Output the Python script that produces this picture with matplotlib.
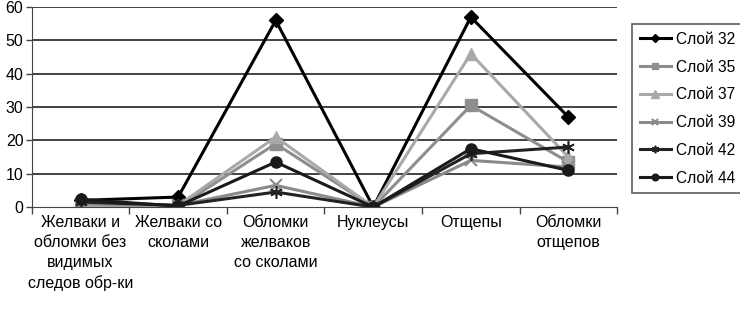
import matplotlib
matplotlib.use("Agg")
import matplotlib.pyplot as plt
import numpy as np

plt.rcParams["font.family"] = ["Liberation Sans", "DejaVu Sans"]

categories = ["Желваки и\nобломки без\nвидимых\nследов обр-ки",
              "Желваки со\nсколами",
              "Обломки\nжелваков\nсо сколами",
              "Нуклеусы",
              "Отщепы",
              "Обломки\nотщепов"]

layers = ["Слой 32", "Слой 35", "Слой 37", "Слой 39", "Слой 42", "Слой 44"]
sloi_32 = [2, 3, 56, 0, 57, 27]
sloi_35 = [0, 0, 19, 0, 30.5, 13.5]
sloi_37 = [0.5, 0.5, 21, 0, 46, 15]
sloi_39 = [1, 0.5, 6.5, 0, 14, 12]
sloi_42 = [1.5, 0.5, 4.5, 0, 16, 18]
sloi_44 = [2.3, 0.3, 13.5, 0, 17.5, 11]
series = [sloi_32, sloi_35, sloi_37, sloi_39, sloi_42, sloi_44]

styles = [
    dict(color="#000000", marker="D", ms=7, lw=2.2),
    dict(color="#8e8e8e", marker="s", ms=8, lw=2.2),
    dict(color="#a9a9a9", marker="^", ms=9, lw=2.2),
    dict(color="#8a8a8a", marker="x", ms=8, lw=2.2, mew=1.5),
    dict(color="#222222", marker=(6, 2, 0), ms=9, lw=2.2, mew=1.2),
    dict(color="#1a1a1a", marker="o", ms=8, lw=2.2),
]

fig = plt.figure(figsize=(7.4, 3.2), dpi=100)
ax = fig.add_axes([0.043, 0.353, 0.791, 0.625])

x = np.arange(len(categories))
for name, vals, st in zip(layers, series, styles):
    ax.plot(x, vals, label=name, **st)

ax.set_xlim(-0.5, len(categories) - 0.5)
ax.set_ylim(0, 60)
ax.set_yticks(range(0, 61, 10))
for v in range(10, 61, 10):
    ax.axhline(v, color="#222222", lw=1.2, zorder=0)

# category labels between boundary ticks
ax.set_xticks(np.arange(-0.5, len(categories), 1.0))
ax.set_xticklabels([])
ax.set_xticks(x, minor=True)
ax.set_xticklabels(categories, minor=True, fontsize=11.5, linespacing=1.4,
                   va="top", ha="center")
ax.tick_params(axis="x", which="minor", length=0, pad=6)
ax.tick_params(axis="x", which="major", length=5, width=1, color="#444444", direction="out")
ax.tick_params(axis="y", length=4, width=1, labelsize=11.5, pad=2, color="#444444")

for s in ["top", "right"]:
    ax.spines[s].set_visible(False)
ax.spines["left"].set_color("#444444")
ax.spines["bottom"].set_color("#444444")

leg = ax.legend(loc="upper left", bbox_to_anchor=(632 / 740, 1 - 24 / 320),
                bbox_transform=fig.transFigure, borderaxespad=0, fontsize=11.2,
                frameon=True, fancybox=False, edgecolor="#333333",
                handlelength=2.0, labelspacing=0.82, markerscale=0.6,
                borderpad=0.5, handletextpad=0.3)
leg.get_frame().set_linewidth(1.2)

fig.savefig("out.png", dpi=100)
